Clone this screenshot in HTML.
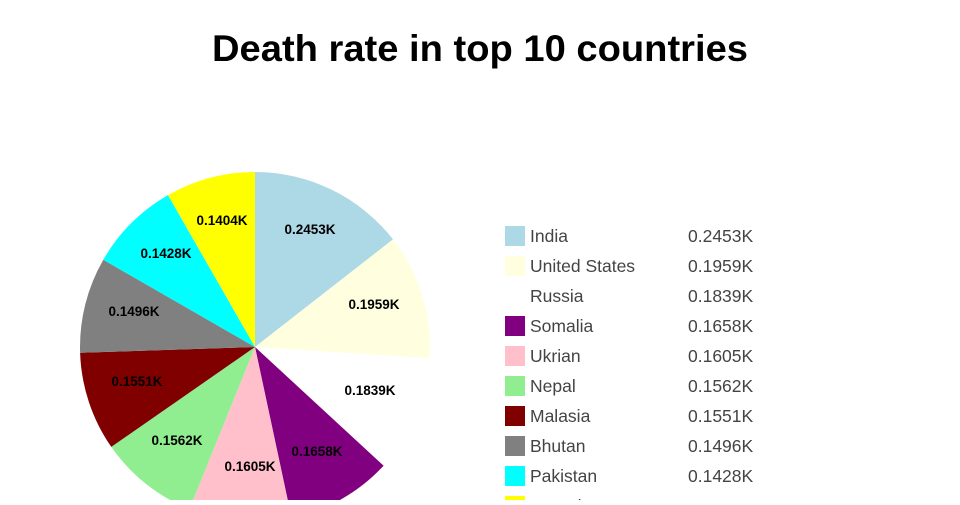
<!DOCTYPE html>
<html><head><meta charset="utf-8"><style>
body{margin:0;width:960px;height:500px;overflow:hidden;background:#fff;font-family:"Liberation Sans",sans-serif}
</style></head><body>
<svg width="960" height="500" xmlns="http://www.w3.org/2000/svg">
<text x="480" y="61" text-anchor="middle" font-size="37" font-weight="bold" fill="#000" font-family="Liberation Sans" textLength="536" lengthAdjust="spacingAndGlyphs">Death rate in top 10 countries</text>
<g>
<path d="M255,347 L255,172 A175,175 0 0 1 393.0,239.4 Z" fill="#add8e6"/>
<path d="M255,347 L393.0,239.4 A175,175 0 0 1 429.6,358.2 Z" fill="#ffffe0"/>
<path d="M255,347 L429.6,358.2 A175,175 0 0 1 383.6,465.7 Z" fill="#ffffff"/>
<path d="M255,347 L383.6,465.7 A175,175 0 0 1 291.6,518.1 Z" fill="#800080"/>
<path d="M255,347 L291.6,518.1 A175,175 0 0 1 189.4,509.2 Z" fill="#ffc0cb"/>
<path d="M255,347 L189.4,509.2 A175,175 0 0 1 111.3,446.9 Z" fill="#90ee90"/>
<path d="M255,347 L111.3,446.9 A175,175 0 0 1 80.1,352.8 Z" fill="#800000"/>
<path d="M255,347 L80.1,352.8 A175,175 0 0 1 103.3,259.8 Z" fill="#808080"/>
<path d="M255,347 L103.3,259.8 A175,175 0 0 1 168.0,195.1 Z" fill="#00ffff"/>
<path d="M255,347 L168.0,195.1 A175,175 0 0 1 255,172 Z" fill="#ffff00"/>
</g>
<g font-size="13.5" font-weight="bold" text-anchor="middle" fill="#000">
<text x="310" y="234">0.2453K</text>
<text x="374" y="309">0.1959K</text>
<text x="370" y="395">0.1839K</text>
<text x="317" y="456">0.1658K</text>
<text x="250" y="471">0.1605K</text>
<text x="177" y="445">0.1562K</text>
<text x="137" y="386">0.1551K</text>
<text x="134" y="316">0.1496K</text>
<text x="166" y="258">0.1428K</text>
<text x="222" y="225">0.1404K</text>
</g>
<g font-size="17.5" fill="#444">
<rect x="505" y="226" width="20" height="20" fill="#add8e6"/><text x="530" y="242">India</text><text x="688" y="242">0.2453K</text>
<rect x="505" y="256" width="20" height="20" fill="#ffffe0"/><text x="530" y="272">United States</text><text x="688" y="272">0.1959K</text>
<rect x="505" y="286" width="20" height="20" fill="#ffffff"/><text x="530" y="302">Russia</text><text x="688" y="302">0.1839K</text>
<rect x="505" y="316" width="20" height="20" fill="#800080"/><text x="530" y="332">Somalia</text><text x="688" y="332">0.1658K</text>
<rect x="505" y="346" width="20" height="20" fill="#ffc0cb"/><text x="530" y="362">Ukrian</text><text x="688" y="362">0.1605K</text>
<rect x="505" y="376" width="20" height="20" fill="#90ee90"/><text x="530" y="392">Nepal</text><text x="688" y="392">0.1562K</text>
<rect x="505" y="406" width="20" height="20" fill="#800000"/><text x="530" y="422">Malasia</text><text x="688" y="422">0.1551K</text>
<rect x="505" y="436" width="20" height="20" fill="#808080"/><text x="530" y="452">Bhutan</text><text x="688" y="452">0.1496K</text>
<rect x="505" y="466" width="20" height="20" fill="#00ffff"/><text x="530" y="482">Pakistan</text><text x="688" y="482">0.1428K</text>
<rect x="505" y="496" width="20" height="20" fill="#ffff00"/><text x="530" y="512">Canada</text><text x="688" y="512">0.1404K</text>
</g>
</svg>
</body></html>
